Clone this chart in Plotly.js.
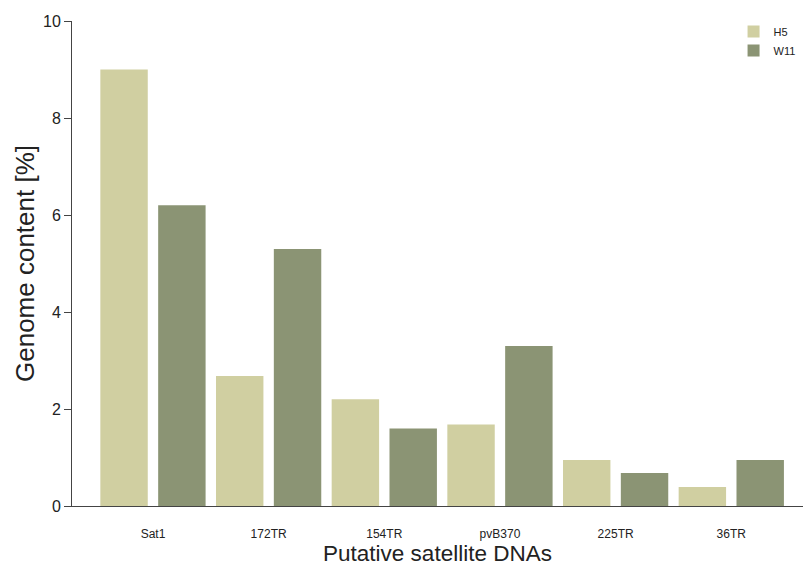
<!DOCTYPE html>
<html>
<head>
<meta charset="utf-8">
<script src="https://cdn.plot.ly/plotly-3.0.1.min.js"></script>
<style>html,body{margin:0;padding:0;background:#fff;}#chart{width:803px;height:566px;}</style>
</head>
<body>
<div id="chart"></div>
<script>
const categories = ["Sat1", "172TR", "154TR", "pvB370", "225TR", "36TR"];
const h5Values = [9.0, 2.68, 2.2, 1.68, 0.95, 0.39];
const w11Values = [6.2, 5.3, 1.6, 3.3, 0.68, 0.95];
const seriesNames = ["H5", "W11"];

const traces = [
  {type: "bar", name: seriesNames[0], x: categories, y: h5Values,
   marker: {color: "#d0cfa1", line: {width: 0}}, hoverinfo: "none"},
  {type: "bar", name: seriesNames[1], x: categories, y: w11Values,
   marker: {color: "#8b9474", line: {width: 0}}, hoverinfo: "none"}
];

const layout = {
  width: 803, height: 566,
  margin: {l: 72, r: 0, t: 21, b: 60},
  paper_bgcolor: "#ffffff", plot_bgcolor: "#ffffff",
  font: {family: "Liberation Sans, Arial, sans-serif", color: "#222"},
  barmode: "group", bargap: 0, bargroupgap: 0.18,
  showlegend: true,
  legend: {x: 0.905, xanchor: "left", y: 1.008, yanchor: "top",
           font: {size: 11, color: "#222"}, bgcolor: "rgba(0,0,0,0)",
           tracegroupgap: 0, itemwidth: 30},
  xaxis: {
    type: "category", range: [-0.70, 5.62],
    showline: true, linecolor: "#444", linewidth: 1,
    showgrid: false, zeroline: false,
    ticks: "outside", ticklen: 17, tickcolor: "rgba(0,0,0,0)",
    tickfont: {size: 12, color: "#222"},
    title: {text: "Putative satellite DNAs", font: {size: 22.5, color: "#222"}, standoff: 4}
  },
  yaxis: {
    range: [0, 10], tickvals: [0, 2, 4, 6, 8, 10],
    showline: true, linecolor: "#444", linewidth: 1,
    showgrid: false, zeroline: false,
    ticks: "outside", ticklen: 7, tickcolor: "#444",
    tickfont: {size: 16, color: "#222"},
    title: {text: "Genome content [%]", font: {size: 26, color: "#222"}, standoff: 0}
  }
};

Plotly.newPlot("chart", traces, layout, {displayModeBar: false, staticPlot: true});
</script>
</body>
</html>
